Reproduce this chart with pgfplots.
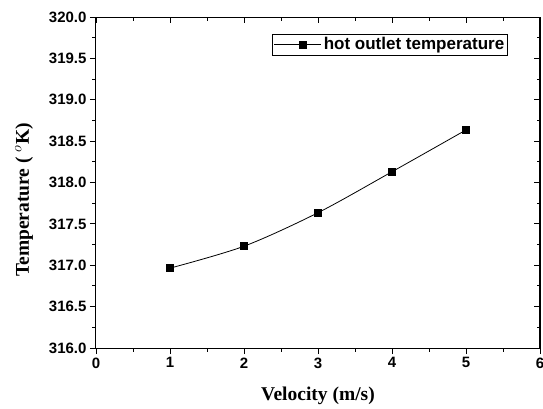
\documentclass[border=0pt]{standalone}
\usepackage{pgfplots}
\pgfplotsset{compat=1.18}
\usepackage{fontspec}
\setmainfont{Liberation Serif}
\newfontfamily\arialf{Liberation Sans}
\begin{document}
\begin{tikzpicture}
\begin{axis}[name=main, scale only axis, width=444pt, height=331pt,
  xmin=0, xmax=6, ymin=316, ymax=320,
  xtick={0,1,2,3,4,5,6}, ytick={316,316.5,317,317.5,318,318.5,319,319.5,320},
  minor x tick num=1, minor y tick num=1,
  tick align=outside, xtick pos=bottom, ytick pos=left,
  major tick length=6pt, minor tick length=3.5pt,
  axis line style={line width=1pt}, tick style={line width=0.9pt, black},
  /pgf/number format/assume math mode=true,
  yticklabel style={/pgf/number format/.cd, fixed, fixed zerofill, precision=1, 1000 sep={}},
  ticklabel style={font=\fontsize{15}{17}\selectfont\arialf\bfseries},
  xlabel={Velocity (m/s)}, ylabel={Temperature ( $^{o}$K)},
  xlabel style={at={(axis description cs:0.5,0)}, anchor=north, yshift=-35pt, font=\fontsize{19.5}{22}\selectfont\bfseries},
  ylabel style={at={(axis description cs:-0.162,0.447)}, anchor=center, rotate=0, font=\fontsize{19.5}{22}\selectfont\bfseries},
  legend style={at={(0.928,0.949)}, anchor=north east, draw=black, line width=0.6pt,
    font=\fontsize{17}{19}\selectfont\arialf\bfseries, inner sep=1.5pt},
  legend image code/.code={\path (-9pt,0pt) -- (38pt,0pt); \draw[black, line width=0.8pt] (0pt,0pt) -- (38pt,0pt); \fill[black] (15.5pt,-3.5pt) rectangle (22.5pt,3.5pt);},
]
\addplot[black, line width=0.8pt, smooth, mark=square*, mark size=3.5pt, mark options={solid, fill=black}]
  coordinates {(1,316.965) (2,317.23) (3,317.635) (4,318.13) (5,318.635)};
\addlegendentry{hot outlet temperature}
\end{axis}
\begin{axis}[scale only axis, width=444pt, height=331pt,
  xmin=0, xmax=6, ymin=316, ymax=320,
  xtick={0,1,2,3,4,5,6}, ytick={316,316.5,317,317.5,318,318.5,319,319.5,320},
  minor x tick num=1, minor y tick num=1,
  tick align=inside, xtick pos=top, ytick pos=right,
  major tick length=6pt, minor tick length=3.5pt,
  axis line style={line width=1pt}, tick style={line width=0.9pt, black},
  xticklabels={}, yticklabels={}]
\end{axis}
\pgfresetboundingbox
\path[use as bounding box] ([shift={(-96pt,-60pt)}]main.south west) rectangle ([shift={(3pt,17pt)}]main.north east);
\end{tikzpicture}
\end{document}
